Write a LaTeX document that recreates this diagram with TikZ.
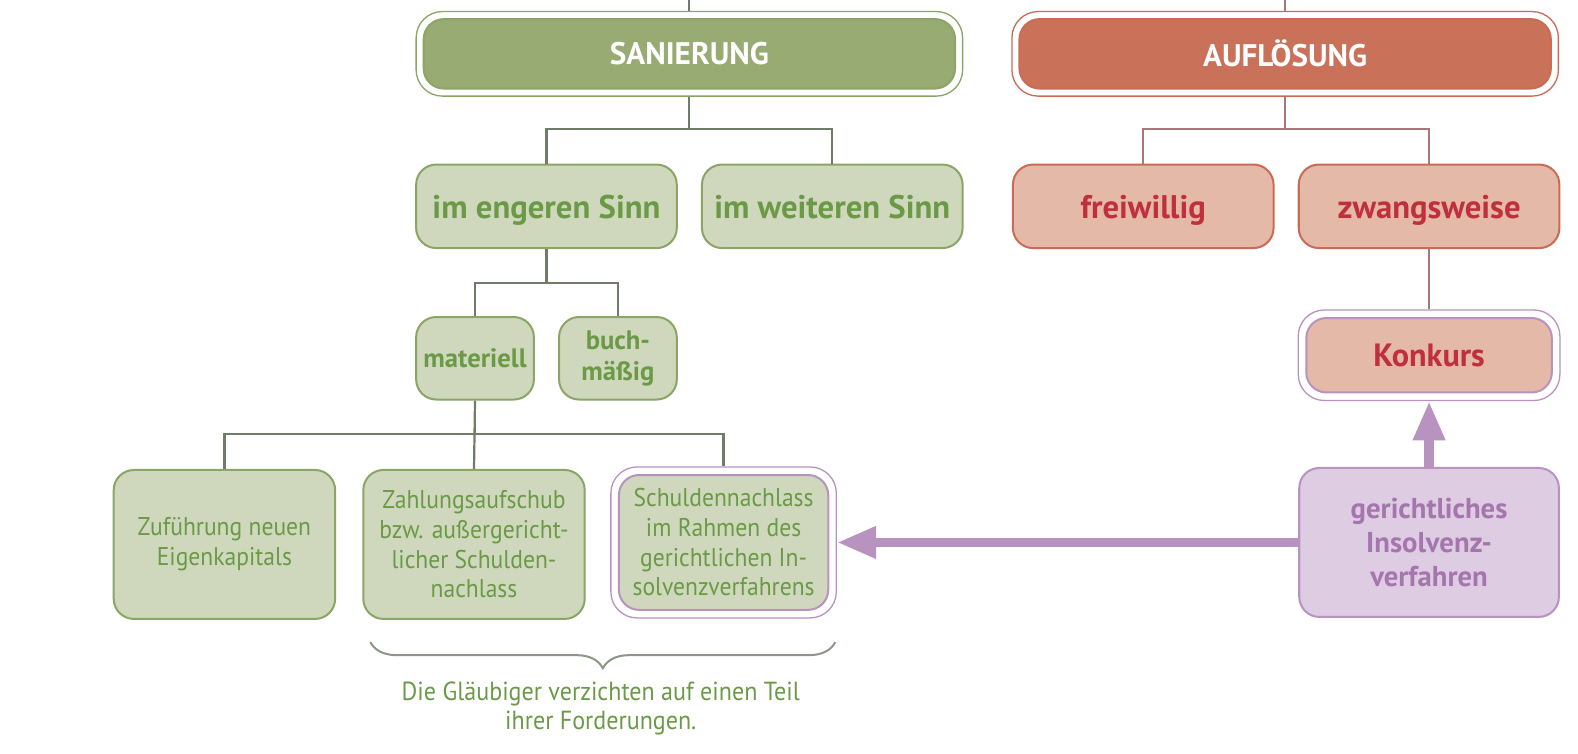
\documentclass[tikz,border=0pt]{standalone}
\usepackage{fontspec}
\setmainfont{PT Sans}[FakeStretch=0.92, BoldFeatures={FakeStretch=1.0}]
\usetikzlibrary{arrows.meta}
\usetikzlibrary{fit}
\usetikzlibrary{decorations.pathreplacing}
\definecolor{sanfill}{RGB}{151,171,114}
\definecolor{sanline}{RGB}{139,165,102}
\definecolor{grnfill}{RGB}{207,216,188}
\definecolor{grntext}{RGB}{107,154,71}
\definecolor{sanlink}{RGB}{111,125,104}
\definecolor{auffill}{RGB}{201,113,89}
\definecolor{aufline}{RGB}{201,107,85}
\definecolor{pnkfill}{RGB}{229,185,168}
\definecolor{redtext}{RGB}{192,48,58}
\definecolor{auflink}{RGB}{168,120,120}
\definecolor{lavfill}{RGB}{221,204,226}
\definecolor{lavline}{RGB}{184,147,192}
\definecolor{lavtext}{RGB}{165,117,173}

\begin{document}
\begin{tikzpicture}[x=1pt,y=1pt,yscale=-1,xscale=1,
  box/.style={rounded corners=20pt, line width=2pt, align=center, inner sep=0pt},
  ring/.style={draw=#1, rounded corners=26pt, line width=1.3pt, inner sep=6.5pt},
  head/.style={box, minimum width=528pt, minimum height=69pt, text=white,
    font=\fontsize{31}{36}\selectfont\bfseries},
  grnbox/.style={box, draw=sanline, fill=grnfill, text=grntext},
  pnkbox/.style={box, draw=aufline, fill=pnkfill, text=redtext},
  midbox/.style={minimum width=259pt, minimum height=83pt, text height=24pt, text depth=0pt,
    font=\fontsize{32.5}{38}\selectfont\bfseries},
  smlbox/.style={minimum width=117pt, minimum height=82pt, font=\fontsize{26.5}{31}\selectfont\bfseries},
  lowbox/.style={minimum width=220pt, minimum height=148pt, font=\fontsize{25.5}{29.5}\selectfont},
  sanconn/.style={draw=sanlink, line width=2.2pt},
  aufconn/.style={draw=auflink, line width=2.2pt},
  bigarrow/.style={draw=lavline, line width=9.5pt, -{Triangle[length=39pt,width=30pt]}},
]
\useasboundingbox (0,0) rectangle (1568,749);

%Shape: top row
\node[head, box, draw=sanline, fill=sanfill] (san) at (685,53.5) {SANIERUNG};
\node[ring=sanline, fit=(san)] (sanring) {};
\node[head, box, draw=aufline, fill=auffill] (auf) at (1277,53.5) {AUFLÖSUNG};
\node[ring=aufline, fit=(auf)] (aufring) {};

%Shape: second row
\node[grnbox, midbox] (eng) at (543,205) {im engeren Sinn};
\node[grnbox, midbox] (wei) at (827,205) {im weiteren Sinn};
\node[pnkbox, midbox] (frei) at (1136,205) {freiwillig};
\node[pnkbox, midbox] (zwang) at (1420,205) {zwangsweise};

%Shape: third row
\node[grnbox, smlbox] (mat) at (472,356) {materiell};
\node[grnbox, smlbox] (buch) at (614,356) {buch-\\mäßig};
\node[pnkbox, draw=lavline, minimum width=244pt, minimum height=74pt,
  font=\fontsize{32}{37}\selectfont\bfseries] (kon) at (1420,353) {Konkurs};
\node[ring=lavline, fit=(kon), inner sep=7pt] (konring) {};

%Shape: bottom row
\node[grnbox, lowbox] (zuf) at (223,541) {Zuführung neuen\\Eigenkapitals};
\node[grnbox, lowbox] (zahl) at (471,541) {Zahlungsaufschub\\bzw. außergericht-\\licher Schulden-\\nachlass};
\node[grnbox, lowbox, draw=lavline, minimum width=208pt, minimum height=134pt] (schuld) at (719,539)
  {Schuldennachlass\\im Rahmen des\\gerichtlichen In-\\solvenzverfahrens};
\node[ring=lavline, fit=(schuld), inner sep=7pt] (schring) {};
\node[box, draw=lavline, fill=lavfill, text=lavtext, minimum width=258pt, minimum height=148pt,
  font=\fontsize{28.5}{34}\selectfont\bfseries] (ger) at (1420,539) {gerichtliches\\Insolvenz-\\verfahren};

%Straight Lines
\coordinate (sanin) at (685,0);
\coordinate (aufin) at (1277,0);
\draw[sanconn] (sanin) -- (sanring.north);
\draw[aufconn] (aufin) -- (aufring.north);
\draw[sanconn] (sanring.south) -- ++(0,32) -| (eng.north);
\draw[sanconn] (sanring.south) -- ++(0,32) -| (wei.north);
\draw[aufconn] (aufring.south) -- ++(0,32) -| (frei.north);
\draw[aufconn] (aufring.south) -- ++(0,32) -| (zwang.north);
\draw[sanconn] (eng.south) -- ++(0,34) -| (mat.north);
\draw[sanconn] (eng.south) -- ++(0,34) -| (buch.north);
\draw[sanconn] (mat.south) -- ++(0,33) -| (zuf.north);
\draw[sanconn] (mat.south) -- (zahl.north);
\draw[sanconn] (mat.south) -- ++(0,33) -| (schring.north);
\draw[aufconn] (zwang.south) -- (konring.south |- konring.north);

%Arrows
\draw[bigarrow] (ger.west) -- (schring.east);
\draw[bigarrow] (ger.north) -- (konring.south);

%Brace
\coordinate (brL) at (368,638);
\coordinate (brR) at (830,638);
\draw[draw=sanlink!80, line width=2pt, decorate, decoration={brace, amplitude=26pt}] (brR) -- (brL);

% Text Node
\node[align=center, text=grntext, font=\fontsize{26}{28.5}\selectfont] (note) at (597,704)
  {Die Gläubiger verzichten auf einen Teil\\ihrer Forderungen.};
\end{tikzpicture}
\end{document}
